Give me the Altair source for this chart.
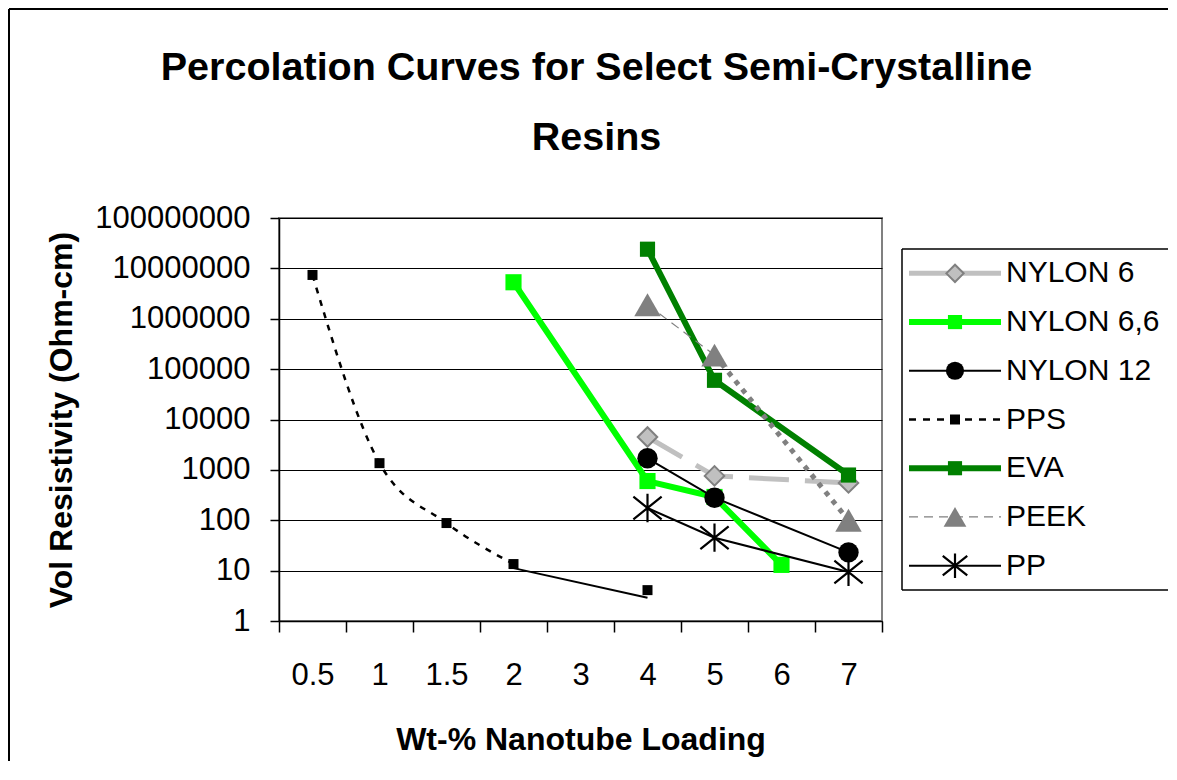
import json
import altair as alt
import pandas as pd

FONT = "Liberation Sans"

# ---- data ----
categories = ["0.5", "1", "1.5", "2", "3", "4", "5", "6", "7"]
series_names = ["NYLON 6", "NYLON 6,6", "NYLON 12", "PPS", "EVA", "PEEK", "PP"]
y_ticks = [1, 10, 100, 1000, 10000, 100000, 1000000, 10000000, 100000000]

nylon6_x = ["4", "5", "7"]
nylon6_y = [4500, 760, 550]
nylon66_x = ["2", "4", "5", "6"]
nylon66_y = [5300000, 600, 290, 13]
nylon12_x = ["4", "5", "7"]
nylon12_y = [1700, 280, 23]
pps_x = ["0.5", "1", "1.5", "2", "4"]
pps_y = [7400000, 1360, 88, 13.5, 4.1]
pps_tail_x = ["2", "4"]
pps_tail_y = [11.2, 2.9]
eva_x = ["4", "5", "7"]
eva_y = [24000000, 60000, 790]
peek_x = ["4", "5", "7"]
peek_y = [1900000, 190000, 100]
pp_x = ["4", "5", "7"]
pp_y = [175, 45, 9.4]

# ---- layout ----
W, H = 603, 403
PAD = {"left": 271, "top": 210, "right": 286, "bottom": 140}
N = len(categories)


def frame(xs, ys):
    return pd.DataFrame({"i": [categories.index(c) for c in xs], "v": ys})


x_axis = alt.Axis(
    values=[k - 0.5 for k in range(N + 1)],
    labelExpr=f"datum.value < {N - 1} ? {json.dumps(categories)}[round(datum.value + 0.5)] : ''",
    labelOffset=W / N / 2,
    labelFlush=False, labelOverlap=False, labelBound=False,
    labelFontSize=31, labelPadding=28, labelColor="black",
    tickSize=11, tickColor="black", tickWidth=1.5,
    domainColor="black", domainWidth=1.5,
    grid=False,
    title="Wt-% Nanotube Loading", titleFontSize=32, titleFontWeight="bold",
    titlePadding=34, titleColor="black",
)
y_axis = alt.Axis(
    values=y_ticks, format="d",
    labelFontSize=31, labelPadding=20, labelColor="black", labelFlush=False,
    labelOverlap=False, labelBound=False,
    tickSize=9, tickColor="black", tickWidth=1.5,
    domainColor="black", domainWidth=1.5,
    grid=True, gridColor="black", gridWidth=1,
    title="Vol Resistivity (Ohm-cm)", titleFontSize=32, titleFontWeight="bold",
    titlePadding=16, titleColor="black",
)


def X():
    return alt.X("i:Q", scale=alt.Scale(domain=[-0.5, N - 0.5], nice=False, zero=False), axis=x_axis)


def Y():
    return alt.Y("v:Q", scale=alt.Scale(type="log", domain=[1, 1e8], nice=False), axis=y_axis)


def line(df, **kw):
    return alt.Chart(df).mark_line(**kw).encode(x=X(), y=Y())


def pts(df, **kw):
    return alt.Chart(df).mark_point(opacity=1, **kw).encode(x=X(), y=Y())


ASTERISK = "M0,-1L0,1M-1,-0.8L1,0.8M-1,0.8L1,-0.8"

n6 = frame(nylon6_x, nylon6_y)
n66 = frame(nylon66_x, nylon66_y)
n12 = frame(nylon12_x, nylon12_y)
pps = frame(pps_x, pps_y)
pps_tail = frame(pps_tail_x, pps_tail_y)
eva = frame(eva_x, eva_y)
peek = frame(peek_x, peek_y)
pp = frame(pp_x, pp_y)

main = alt.layer(
    line(n6, color="#C0C0C0", strokeWidth=5, strokeDash=[40, 16]),
    pts(n6, shape="diamond", filled=True, fill="#C0C0C0", stroke="#808080", strokeWidth=2, size=380),
    line(n66, color="#00FF00", strokeWidth=6),
    pts(n66, shape="square", filled=True, fill="#00FF00", strokeWidth=0, size=260),
    line(n12, color="black", strokeWidth=2),
    pts(n12, shape="circle", filled=True, fill="black", strokeWidth=0, size=415),
    line(pps.iloc[:4], color="black", strokeWidth=2.5, strokeDash=[6, 7], interpolate="monotone"),
    line(pps_tail, color="black", strokeWidth=2),
    pts(pps, shape="square", filled=True, fill="black", strokeWidth=0, size=100),
    line(eva, color="#008000", strokeWidth=6),
    pts(eva, shape="square", filled=True, fill="#008000", strokeWidth=0, size=230),
    line(peek.iloc[:2], color="#808080", strokeWidth=1.2, strokeDash=[9, 6]),
    line(peek.iloc[1:], color="#808080", strokeWidth=5, strokeDash=[5, 6]),
    pts(peek, shape="triangle-up", filled=True, fill="#808080", strokeWidth=0, size=700),
    line(pp, color="black", strokeWidth=2),
    pts(pp, shape=ASTERISK, filled=False, stroke="black", strokeWidth=2.2, size=800),
)

# ---- legend (own scales) ----
LX = lambda: alt.X("lx:Q", scale=alt.Scale(domain=[0, 1], range=[630, 722], nice=False, zero=False), axis=None)
LY = lambda: alt.Y("s:N", scale=alt.Scale(type="point", domain=series_names, range=[31, 372], padding=0.5), axis=None)


def leg_line(name, **kw):
    df = pd.DataFrame({"lx": [0, 1], "s": [name, name]})
    return alt.Chart(df).mark_line(**kw).encode(x=LX(), y=LY())


def leg_pt(name, **kw):
    df = pd.DataFrame({"lx": [0.5], "s": [name]})
    return alt.Chart(df).mark_point(opacity=1, **kw).encode(x=LX(), y=LY())


ONE = alt.Data(values=[{}])
RIGHT = W + PAD["right"]  # right edge of the drawing

legend_frame = [
    alt.Chart(ONE).mark_rule(color="black", strokeWidth=1.5).encode(
        x=alt.value(623), x2=alt.value(RIGHT), y=alt.value(31)),
    alt.Chart(ONE).mark_rule(color="black", strokeWidth=1.5).encode(
        x=alt.value(623), x2=alt.value(RIGHT), y=alt.value(372)),
    alt.Chart(ONE).mark_rule(color="black", strokeWidth=1.5).encode(
        x=alt.value(623), y=alt.value(31), y2=alt.value(372)),
]

legend_text = alt.Chart(pd.DataFrame({"s": series_names, "lx": [1] * len(series_names)})).mark_text(
    align="left", baseline="middle", dx=5, fontSize=30, font=FONT, color="black"
).encode(x=LX(), y=LY(), text="s:N")

legend = alt.layer(
    *legend_frame,
    leg_line("NYLON 6", color="#C0C0C0", strokeWidth=5),
    leg_pt("NYLON 6", shape="diamond", filled=True, fill="#C0C0C0", stroke="#808080", strokeWidth=2, size=300),
    leg_line("NYLON 6,6", color="#00FF00", strokeWidth=6),
    leg_pt("NYLON 6,6", shape="square", filled=True, fill="#00FF00", strokeWidth=0, size=200),
    leg_line("NYLON 12", color="black", strokeWidth=2),
    leg_pt("NYLON 12", shape="circle", filled=True, fill="black", strokeWidth=0, size=330),
    leg_line("PPS", color="black", strokeWidth=2.5, strokeDash=[7, 7]),
    leg_pt("PPS", shape="square", filled=True, fill="black", strokeWidth=0, size=100),
    leg_line("EVA", color="#008000", strokeWidth=6),
    leg_pt("EVA", shape="square", filled=True, fill="#008000", strokeWidth=0, size=200),
    leg_line("PEEK", color="#808080", strokeWidth=1.2, strokeDash=[9, 6]),
    leg_pt("PEEK", shape="triangle-up", filled=True, fill="#808080", strokeWidth=0, size=520),
    leg_line("PP", color="black", strokeWidth=2),
    leg_pt("PP", shape=ASTERISK, filled=False, stroke="black", strokeWidth=2.2, size=600),
    legend_text,
)

# outer chart frame: only its left and top edges fall inside the picture
border = alt.layer(
    alt.Chart(ONE).mark_rule(color="black", strokeWidth=2).encode(
        x=alt.value(-270), y=alt.value(-209), y2=alt.value(H + PAD["bottom"])),
    alt.Chart(ONE).mark_rule(color="black", strokeWidth=2).encode(
        x=alt.value(-270), x2=alt.value(RIGHT), y=alt.value(-209)),
)

chart = alt.layer(border, main, legend).resolve_scale(
    x="independent", y="independent"
).properties(
    width=W,
    height=H,
    autosize=alt.AutoSizeParams(type="none"),
    padding=PAD,
    title=alt.TitleParams(
        ["Percolation Curves for Select Semi-Crystalline", "Resins"],
        fontSize=39.5, fontWeight="bold", font=FONT, color="black",
        anchor="middle", frame="group", dx=16, offset=-150, lineHeight=70,
    ),
).configure_view(
    stroke="#808080", strokeWidth=2
).configure_axis(
    labelFont=FONT, titleFont=FONT
)

chart.save("out.html", embed_options={"renderer": "svg", "actions": False})
